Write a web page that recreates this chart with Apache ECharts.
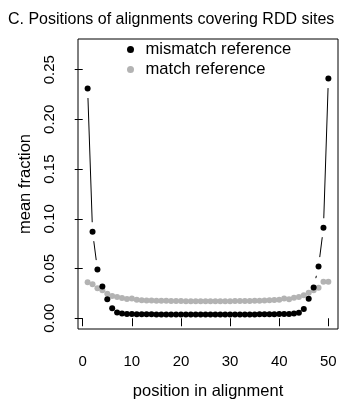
<!DOCTYPE html>
<html><head><meta charset="utf-8">
<script src="https://cdn.jsdelivr.net/npm/echarts@6/dist/echarts.min.js"></script>
<style>html,body{margin:0;padding:0;background:#fff}#c{width:362px;height:413px}</style>
</head><body><div id="c"></div>
<script>
var positions = [];
for (var i = 1; i <= 50; i++) positions.push(i);
var mismatchRef = [
  0.231, 0.087, 0.049, 0.032, 0.019, 0.010, 0.0058, 0.0047, 0.0043, 0.0042,
  0.0041, 0.0040, 0.0040, 0.0040, 0.0039, 0.0039, 0.0039, 0.0039, 0.0038, 0.0038,
  0.0038, 0.0038, 0.0038, 0.0038, 0.0038, 0.0038, 0.0038, 0.0038, 0.0038, 0.0038,
  0.0039, 0.0039, 0.0039, 0.0039, 0.0039, 0.0040, 0.0040, 0.0040, 0.0041, 0.0042,
  0.0043, 0.0044, 0.0047, 0.0056, 0.0094, 0.0195, 0.031, 0.052, 0.091, 0.241
];
var matchRef = [
  0.0362, 0.0343, 0.0303, 0.0281, 0.0247, 0.0225, 0.0213, 0.0203, 0.0194, 0.0198,
  0.0185, 0.0181, 0.0178, 0.0178, 0.0176, 0.0175, 0.0175, 0.0174, 0.0173, 0.0173,
  0.0172, 0.0172, 0.0172, 0.0172, 0.0171, 0.0171, 0.0172, 0.0172, 0.0172, 0.0172,
  0.0173, 0.0173, 0.0174, 0.0174, 0.0175, 0.0176, 0.0178, 0.0180, 0.0183, 0.0185,
  0.0198, 0.0192, 0.0205, 0.0215, 0.0232, 0.0256, 0.0282, 0.0306, 0.0368, 0.0368
];
var xTicks = [0, 10, 20, 30, 40, 50];
var yTicks = [0, 0.05, 0.10, 0.15, 0.20, 0.25];

var FONT = 'Liberation Sans, Arial, Helvetica, sans-serif';
var blackPts = positions.map(function (x, i) { return [x, mismatchRef[i]]; });
var grayPts = positions.map(function (x, i) { return [x, matchRef[i]]; });
var segs = [];
for (var j = 0; j < positions.length - 1; j++) {
  segs.push([positions[j], mismatchRef[j], positions[j + 1], mismatchRef[j + 1]]);
}
var GAP = 9.5;

var chart = echarts.init(document.getElementById('c'), null, {renderer: 'canvas'});
chart.setOption({
  animation: false,
  backgroundColor: '#fff',
  title: {
    text: 'C. Positions of alignments covering RDD sites',
    left: 8, top: 12, padding: 0,
    textStyle: {fontFamily: FONT, fontSize: 16, fontWeight: 'normal', color: '#000'}
  },
  legend: {
    orient: 'vertical', left: 127, top: 41, padding: 0,
    itemWidth: 20, itemHeight: 7, itemGap: 3,
    data: [
      {name: 'mismatch reference', icon: 'circle', itemStyle: {color: '#000'}},
      {name: 'match reference', icon: 'circle', itemStyle: {color: '#b3b3b3'}}
    ],
    textStyle: {fontFamily: FONT, fontSize: 16.6, color: '#000', lineHeight: 17}
  },
  grid: {left: 78, right: 24, top: 39, bottom: 84, show: true, borderColor: '#000', borderWidth: 1, backgroundColor: 'transparent'},
  xAxis: {
    type: 'value', min: -0.96, max: 51.96,
    name: 'position in alignment', nameLocation: 'middle', nameGap: 54,
    nameTextStyle: {fontFamily: FONT, fontSize: 16.5, color: '#000'},
    axisLine: {show: false},
    splitLine: {show: false},
    axisTick: {show: true, length: 8, lineStyle: {color: '#000'}, customValues: xTicks},
    axisLabel: {customValues: xTicks, fontFamily: FONT, fontSize: 15, color: '#000', margin: 25}
  },
  yAxis: {
    type: 'value', min: -0.0108, max: 0.2808,
    name: 'mean fraction', nameLocation: 'middle', nameGap: 42, nameRotate: 90,
    nameTextStyle: {fontFamily: FONT, fontSize: 16.5, color: '#000'},
    axisLine: {show: false},
    splitLine: {show: false},
    axisTick: {show: true, length: 8, lineStyle: {color: '#000'}, customValues: yTicks},
    axisLabel: {customValues: yTicks, rotate: 90, fontFamily: FONT, fontSize: 15, color: '#000', margin: 21,
      formatter: function (v) { return v.toFixed(2); }}
  },
  series: [
    {
      name: 'match reference', type: 'scatter', data: grayPts, symbol: 'circle', symbolSize: 6,
      itemStyle: {color: '#b3b3b3', opacity: 1}, z: 2
    },
    {
      name: 'mismatch line', type: 'custom', data: segs, z: 3, silent: true,
      encode: {x: [0, 2], y: [1, 3]},
      renderItem: function (params, api) {
        var p1 = api.coord([api.value(0), api.value(1)]);
        var p2 = api.coord([api.value(2), api.value(3)]);
        var dx = p2[0] - p1[0], dy = p2[1] - p1[1];
        var d = Math.sqrt(dx * dx + dy * dy);
        if (d <= 2 * GAP) return null;
        var ux = dx / d, uy = dy / d;
        return {
          type: 'line',
          shape: {x1: p1[0] + ux * GAP, y1: p1[1] + uy * GAP, x2: p2[0] - ux * GAP, y2: p2[1] - uy * GAP},
          style: {stroke: '#000', lineWidth: 1}
        };
      }
    },
    {
      name: 'mismatch reference', type: 'scatter', data: blackPts, symbol: 'circle', symbolSize: 6,
      itemStyle: {color: '#000', opacity: 1}, z: 4
    }
  ]
});
</script></body></html>
